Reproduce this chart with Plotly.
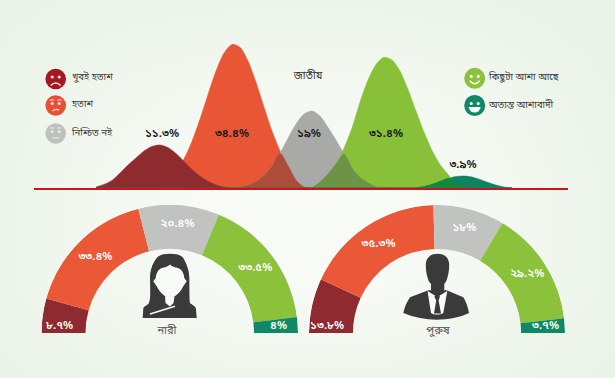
import numpy as np
import plotly.graph_objects as go

W, H = 615, 378
FONT = "Noto Sans Bengali, Noto Sans, Liberation Sans, DejaVu Sans"

# ---- data ----
ridge_x = list(range(96, 520, 8))
ridge_dark_red = [1,3.6,7.6,15,23,30,37,41.6,43,40.4,34.4,26.6,18.6,11.8,6.8,3,0.8,0] + [0]*35
ridge_orange = [0]*8 + [2,8,16.9,29.2,46.8,68.9,93.6,117,135,143.6,140.7,127,105.7,81,57,37.3,22.4,8,1] + [0]*26
ridge_gray = [0]*19 + [2.9,6.3,12.4,21.9,34.8,49.7,63.9,74,77,72,60.6,48,34,20,10.6,5.2,1] + [0]*17
ridge_green = [0]*27 + [0.5,6,14,24,40,60,86,108,123.5,130.7,128,117,98.5,77,56,37.7,23.6,13.7,4,1] + [0]*6
ridge_teal = [0]*41 + [1.5,3.5,6.5,9.5,11.5,12,11,8.5,5.5,3,1,0]
ridge_labels = ["১১.৩%", "৩৪.৪%", "১৯%", "৩১.৪%", "৩.৯%"]
ridge_label_x = [162, 232, 309, 386, 463]
ridge_label_h = [54, 54, 54, 54, 23]

female_values = [8.7, 33.4, 20.4, 33.5, 4]
female_labels = ["৮.৭%", "৩৩.৪%", "২০.৪%", "৩৩.৫%", "৪%"]
male_values = [13.8, 35.3, 18, 29.2, 3.7]
male_labels = ["১৩.৮%", "৩৫.৩%", "১৮%", "২৯.২%", "৩.৭%"]

colors = ["#8f2a31", "#ea5837", "#c1c3c1", "#8bc13b", "#0f8866"]
ridge_colors = ["#8f2a2f", "#e85636", "#a9aaa8", "#88c03a", "#0e8263"]
overlap_orange_gray = "#ad4c38"
overlap_gray_green = "#6d9346"
overlap_green_teal = "#12893f"

legend_left = ["খুবই হতাশ", "হতাশ", "নিশ্চিত নই"]
legend_right = ["কিছুটা আশা আছে", "অত্যন্ত আশাবাদী"]

bg_tint = [
    [0.80, 0.70, 0.65, 0.65, 0.75, 0.90],
    [0.70, 0.40, 0.25, 0.25, 0.40, 0.75],
    [0.65, 0.25, 0.00, 0.00, 0.25, 0.65],
    [0.65, 0.30, 0.10, 0.10, 0.30, 0.65],
    [0.80, 0.60, 0.50, 0.50, 0.60, 0.80],
]

fig = go.Figure()

# canvas layer: background tint, legend and icon text
fig.add_trace(go.Heatmap(
    z=bg_tint, x=np.linspace(0, W, 6), y=np.linspace(0, H, 5),
    colorscale=[[0, "#f9fbf7"], [1, "#e6f1e3"]], zmin=0, zmax=1,
    zsmooth="best", showscale=False, hoverinfo="skip", xaxis="x", yaxis="y"))
fig.add_trace(go.Scatter(
    x=[72, 72, 72, 489, 489], y=[78, 105, 134, 78, 106],
    text=legend_left + legend_right, mode="text", textposition="middle right",
    textfont=dict(family=FONT, size=9.6, color="#3d3d3d"),
    hoverinfo="skip", xaxis="x", yaxis="y"))
fig.add_trace(go.Scatter(
    x=[167, 438], y=[331, 331], text=["নারী", "পুরুষ"], mode="text",
    textposition="middle center",
    textfont=dict(family=FONT, size=11, color="#555555"),
    hoverinfo="skip", xaxis="x", yaxis="y"))

# ridge layer
def ridge(y, color):
    fig.add_trace(go.Scatter(x=ridge_x, y=y, mode="lines", fill="tozeroy",
                             fillcolor=color, line=dict(color=color, width=0.5, shape="spline", smoothing=0.8),
                             hoverinfo="skip", xaxis="x2", yaxis="y2"))

ridge(ridge_orange, ridge_colors[1])
ridge(ridge_gray, ridge_colors[2])
ridge(ridge_green, ridge_colors[3])
ridge(np.minimum(ridge_orange, ridge_gray).tolist(), overlap_orange_gray)
ridge(np.minimum(ridge_gray, ridge_green).tolist(), overlap_gray_green)
ridge(ridge_dark_red, ridge_colors[0])
ridge(ridge_teal, ridge_colors[4])
ridge(np.minimum(ridge_green, ridge_teal).tolist(), overlap_green_teal)
fig.add_trace(go.Scatter(
    x=ridge_label_x, y=ridge_label_h,
    text=ridge_labels, mode="text", textposition="middle center",
    textfont=dict(family=FONT, size=11.5, color="#161616", weight=600),
    hoverinfo="skip", xaxis="x2", yaxis="y2"))
fig.add_trace(go.Scatter(
    x=[308], y=[112], text=["জাতীয়"], mode="text", textposition="middle center",
    textfont=dict(family=FONT, size=10.5, color="#333333"),
    hoverinfo="skip", xaxis="x2", yaxis="y2"))

# gauge layers
def gauge(values, labels, subplot, end_offset=3.6):
    total = sum(values)
    widths = [v / total * 180 for v in values]
    starts = np.cumsum([0] + widths[:-1])
    mids = starts + np.array(widths) / 2
    fig.add_trace(go.Barpolar(
        theta=mids.tolist(), r=[0.343] * len(values), base=[0.657] * len(values),
        width=widths, marker=dict(color=colors, line=dict(width=0)),
        hoverinfo="skip", subplot=subplot))
    label_theta = mids.tolist()
    label_theta[0] = end_offset
    label_theta[-1] = 180 - end_offset
    fig.add_trace(go.Scatterpolar(
        theta=label_theta, r=[0.86, 0.83, 0.85, 0.84, 0.85], text=labels, mode="text",
        textfont=dict(family=FONT, size=11.5, color="#ffffff", weight=600),
        hoverinfo="skip", subplot=subplot))

gauge(female_values, female_labels, "polar")
gauge(male_values, male_labels, "polar2")

# icons
shapes = []
def circle(cx, cy, r, color):
    shapes.append(dict(type="circle", xref="x", yref="y", x0=cx - r, x1=cx + r,
                       y0=cy - r, y1=cy + r, fillcolor=color, line=dict(width=0)))
def path(d, fill=None, stroke=None, width=1.4):
    s = dict(type="path", xref="x", yref="y", path=d,
             line=dict(width=width if stroke else 0, color=stroke or "rgba(0,0,0,0)"))
    if fill:
        s["fillcolor"] = fill
    shapes.append(s)

def face(cx, cy, r, color, feat, mouth):
    circle(cx, cy, r, color)
    circle(cx - 3.5, cy - 2, 1.6, feat)
    circle(cx + 3.5, cy - 2, 1.6, feat)
    if mouth == "sad":
        path(f"M{cx-5},{cy+6.5} Q{cx},{cy+1.5} {cx+5},{cy+6.5}", stroke=feat)
    elif mouth in ("flat", "neutral"):
        # brows above the eyes on the two flat faces
        path(f"M{cx-6},{cy-5.5} L{cx-1.5},{cy-5.5}", stroke=feat, width=1)
        path(f"M{cx+1.5},{cy-5.5} L{cx+6},{cy-5.5}", stroke=feat, width=1)
        if mouth == "flat":
            path(f"M{cx-3.5},{cy+5.5} Q{cx},{cy+3} {cx+3.5},{cy+4.5}", stroke=feat, width=1.2)
        else:
            path(f"M{cx-3.5},{cy+4.5} L{cx+3.5},{cy+4.5}", stroke=feat, width=1.2)
    elif mouth == "smile":
        path(f"M{cx-5},{cy+2.5} Q{cx},{cy+8.5} {cx+5},{cy+2.5}", stroke=feat, width=1.5)
    elif mouth == "grin":
        path(f"M{cx-6},{cy+1.5} L{cx+6},{cy+1.5} Q{cx+5},{cy+7} {cx},{cy+7} Q{cx-5},{cy+7} {cx-6},{cy+1.5} Z", fill=feat)

face(55.7, 79, 10.3, "#a5181f", "#f3e4e4", "sad")
face(55.7, 105.5, 10.3, "#e94f37", "#f8dcd6", "flat")
face(55.7, 133.5, 10.3, "#bfc1be", "#e8e9e6", "neutral")
face(474.7, 78.3, 10.5, "#8bc13b", "#ffffff", "smile")
face(474.7, 105.5, 10.5, "#0f8866", "#ffffff", "grin")

DARK = "#3a3a3a"
WHITE = "#f8faf7"
# woman
path("M170,253.7 C163,253.7 159,255 156.7,258 C152,264 150,271 150,278 C150,285 150.5,292 150,298 "
     "C149.8,301 149,303 148.3,304 C146,306 143.5,306 143.3,309 L142.7,318 L196.7,318 L196,309 "
     "C195.8,306 192,305 190,303 C189.3,300 189.5,285 189.3,278 C189.3,271 187,264 183.3,258 "
     "C181,255 177,253.7 170,253.7 Z", fill=DARK)
path("M170,264.5 C167,267.5 163,267 160,269 C157,271 156,275 155.7,278 L153.3,281.3 L156.7,286.3 "
     "C158.5,290 160.5,292.5 163.3,294.7 C165,296.5 168,297.5 170,297.5 C172,297.5 175,296.5 176.7,294.7 "
     "C179.5,292.5 181.5,290 183.3,286.3 L186.7,281.3 L184.3,278 C184,275 183,271 180,269 "
     "C177,267 173,267.5 170,264.5 Z", fill=WHITE)
path("M165,296.3 L174.5,296.3 L173.5,303 L170,306.5 L165.5,303 Z", fill=WHITE)
path("M150,314 L175,306.3", stroke=WHITE, width=1.6)
# man: body, shirt, neck and head, tie
path("M428.3,290.3 L410,297.3 C407,302 404.5,307 403.3,313 C414,317.5 426,319.7 436.7,319.7 "
     "C448,319.7 460,317.5 469,313 C468,307 466,302 463.3,297.3 L446.7,290.3 Z", fill=DARK)
path("M427.5,291 L437.3,297 L447.3,291 L443.3,313 C440,315 434,315 431,313 Z", fill=WHITE)
path("M437.7,253.7 C444.5,253.7 449.3,258 449.2,265 C449.2,271 448,277 446.2,281.3 L444.3,284 L444.3,290 "
     "L437.3,297.5 L431,290 L431,284 L428.8,281.3 C427,277 425.8,271 425.8,265 C425.8,258 430.5,253.7 437.7,253.7 Z", fill=DARK)
path("M434.3,296.6 L437.3,294.8 L440,296.6 L438.6,300.5 L441,313.5 L434,313.5 L436.2,300.5 Z", fill=DARK)

fig.update_layout(
    width=W, height=H, margin=dict(l=0, r=0, t=0, b=0), showlegend=False,
    paper_bgcolor="#f1f6ef", plot_bgcolor="rgba(0,0,0,0)", shapes=shapes,
    xaxis=dict(range=[0, W], domain=[0, 1], visible=False, fixedrange=True),
    yaxis=dict(range=[H, 0], domain=[0, 1], visible=False, fixedrange=True),
    xaxis2=dict(range=[34, 568], domain=[34 / W, 568 / W], anchor="y2",
                showgrid=False, zeroline=False, showticklabels=False, ticks="",
                showline=True, linecolor="#d0121b", linewidth=2, fixedrange=True),
    yaxis2=dict(range=[0, 188], domain=[1 - 188 / H, 1], anchor="x2", visible=False, fixedrange=True),
)
def polar_layout(x0, x1):
    return dict(
        domain=dict(x=[x0 / W, x1 / W], y=[1 - 333 / H, 1 - (333 - (x1 - x0) / 2) / H]),
        sector=[0, 180], bgcolor="rgba(0,0,0,0)",
        angularaxis=dict(rotation=180, direction="clockwise", visible=False),
        radialaxis=dict(range=[0, 1], visible=False),
    )
fig.update_layout(polar=polar_layout(41.5, 298), polar2=polar_layout(309, 565))

fig.write_html("out.html", config=dict(displayModeBar=False),
               post_script="document.body.style.margin='0';document.documentElement.style.overflow='hidden';")
